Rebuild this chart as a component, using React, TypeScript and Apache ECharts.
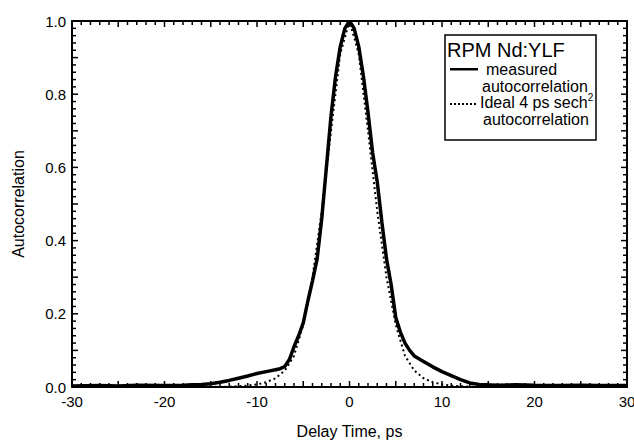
import React, { useEffect, useRef } from "react";
import * as echarts from "echarts";

const measuredT = [-30, -27, -25, -23, -20, -18, -17, -16, -15, -14, -13, -12, -11, -10, -9, -8, -7.5, -7, -6.5, -6, -5.5, -5, -4.5, -4, -3.5, -3, -2.5, -2, -1.5, -1, -0.5, 0, 0.5, 1, 1.5, 2, 2.5, 3, 3.5, 4, 4.5, 5, 5.5, 6, 6.5, 7, 8, 9, 10, 11, 12, 13, 14, 16, 18, 20, 23, 25, 27, 30];
const measuredV = [0.003, 0.004, 0.003, 0.005, 0.004, 0.005, 0.006, 0.007, 0.009, 0.013, 0.018, 0.024, 0.03, 0.037, 0.042, 0.047, 0.05, 0.056, 0.075, 0.11, 0.14, 0.175, 0.235, 0.29, 0.35, 0.46, 0.6, 0.74, 0.85, 0.93, 0.98, 1.0, 0.98, 0.93, 0.85, 0.75, 0.64, 0.56, 0.45, 0.35, 0.28, 0.19, 0.15, 0.12, 0.1, 0.085, 0.07, 0.055, 0.042, 0.031, 0.02, 0.011, 0.007, 0.005, 0.006, 0.005, 0.004, 0.005, 0.004, 0.004];

const idealT = [-20, -15, -14, -13, -12, -11, -10, -9, -8, -7, -6, -5, -4, -3, -2, -1, 0, 1, 2, 3, 4, 5, 6, 7, 8, 9, 10, 11, 12, 13, 14, 15, 20];
const idealV = [0, 0.0003, 0.0006, 0.001, 0.002, 0.004, 0.007, 0.013, 0.024, 0.045, 0.085, 0.17, 0.3, 0.48, 0.7, 0.91, 1.0, 0.91, 0.7, 0.48, 0.3, 0.17, 0.085, 0.045, 0.024, 0.013, 0.007, 0.004, 0.002, 0.001, 0.0006, 0.0003, 0];

const xTickLabels = ["-30", "-20", "-10", "0", "10", "20", "30"];
const yTickLabels = ["0.0", "0.2", "0.4", "0.6", "0.8", "1.0"];

const FONT = "'Liberation Sans', Arial, sans-serif";

// tick mark positions (every 1 ps on x, every 0.02 on y)
const xTickSteps: number[] = [];
for (let i = -30; i <= 30; i++) xTickSteps.push(i);
const yTickSteps: number[] = [];
for (let i = 0; i <= 50; i++) yTickSteps.push(i);

function axisLine() {
  return { show: true, onZero: false, lineStyle: { color: "#000", width: 2 } };
}

export default function App() {
  const ref = useRef<HTMLDivElement>(null);
  useEffect(() => {
    if (!ref.current) return;
    const chart = echarts.init(ref.current, null, { renderer: "svg" });
    const legendText = (x: number, y: number, text: string, extra: any = {}) => ({
      type: "text",
      x,
      y,
      style: { text, fontSize: 16, fontFamily: FONT, fill: "#000", verticalAlign: "middle", ...extra },
      z: 11,
    });
    const dots = [450, 454, 458, 462, 466, 470, 474].map((dx) => ({
      type: "rect",
      shape: { x: dx, y: 103, width: 2, height: 2 },
      style: { fill: "#000" },
      z: 11,
    }));
    const tickData: number[][] = [
      ...xTickSteps.map((t) => [t, 0, 0]),
      ...yTickSteps.map((k) => [-30, k / 50, 1]),
    ];
    const tickStyle = { stroke: "#000", lineWidth: 1.5 };
    chart.setOption({
      animation: false,
      backgroundColor: "#fff",
      grid: { left: 72, right: 7, top: 21, bottom: 54, outerBoundsMode: "none", containLabel: false },
      xAxis: [
        {
          type: "value",
          min: -30,
          max: 30,
          interval: 10,
          position: "bottom",
          axisLine: axisLine(),
          axisTick: { show: false },
          splitLine: { show: false },
          name: "Delay Time, ps",
          nameLocation: "middle",
          nameGap: 36,
          nameTextStyle: { color: "#000", fontSize: 16, fontFamily: FONT },
          axisLabel: {
            color: "#000",
            fontSize: 15,
            fontFamily: FONT,
            margin: 7,
            formatter: (v: number) => xTickLabels[Math.round((v + 30) / 10)] ?? String(v),
          },
        },
        {
          type: "value",
          min: -30,
          max: 30,
          interval: 10,
          position: "top",
          axisLine: axisLine(),
          axisTick: { show: false },
          splitLine: { show: false },
          axisLabel: { show: false },
        },
      ],
      yAxis: [
        {
          type: "value",
          min: 0,
          max: 1,
          interval: 0.2,
          position: "left",
          axisLine: axisLine(),
          axisTick: { show: false },
          splitLine: { show: false },
          name: "Autocorrelation",
          nameLocation: "middle",
          nameGap: 46,
          nameTextStyle: { color: "#000", fontSize: 16, fontFamily: FONT },
          axisLabel: {
            color: "#000",
            fontSize: 15,
            fontFamily: FONT,
            margin: 6,
            formatter: (v: number) => yTickLabels[Math.round(v * 5)] ?? String(v),
          },
        },
        {
          type: "value",
          min: 0,
          max: 1,
          interval: 0.2,
          position: "right",
          axisLine: axisLine(),
          axisTick: { show: false },
          splitLine: { show: false },
          axisLabel: { show: false },
        },
      ],
      series: [
        {
          type: "custom",
          name: "ticks",
          coordinateSystem: "cartesian2d",
          xAxisIndex: 0,
          yAxisIndex: 0,
          clip: false,
          silent: true,
          z: 1,
          data: tickData,
          renderItem: (_params: any, api: any) => {
            const kind = api.value(2);
            if (kind === 0) {
              const t = api.value(0);
              const len = Math.round(t) % 5 === 0 ? 6 : 4;
              const b = api.coord([t, 0]);
              const top = api.coord([t, 1]);
              return {
                type: "group",
                children: [
                  { type: "line", shape: { x1: b[0], y1: b[1], x2: b[0], y2: b[1] - len }, style: tickStyle },
                  { type: "line", shape: { x1: top[0], y1: top[1], x2: top[0], y2: top[1] + len }, style: tickStyle },
                ],
              };
            }
            const v = api.value(1);
            const len = Math.round(v * 50) % 5 === 0 ? 6 : 4;
            const l = api.coord([-30, v]);
            const r = api.coord([30, v]);
            return {
              type: "group",
              children: [
                { type: "line", shape: { x1: l[0], y1: l[1], x2: l[0] + len, y2: l[1] }, style: tickStyle },
                { type: "line", shape: { x1: r[0], y1: r[1], x2: r[0] - len, y2: r[1] }, style: tickStyle },
              ],
            };
          },
        },
        {
          type: "line",
          name: "ideal",
          data: idealT.map((t, i) => [t, idealV[i]]),
          showSymbol: false,
          lineStyle: { color: "#000", width: 2, type: [2, 3] },
          z: 2,
        },
        {
          type: "line",
          name: "measured",
          data: measuredT.map((t, i) => [t, measuredV[i]]),
          showSymbol: false,
          lineStyle: { color: "#000", width: 3.5 },
          z: 3,
        },
      ],
      graphic: [
        {
          type: "rect",
          shape: { x: 445, y: 35, width: 151, height: 105 },
          style: { fill: "#fff", stroke: "#000", lineWidth: 1.5 },
          z: 10,
        },
        legendText(447, 50, "RPM Nd:YLF", { fontSize: 20 }),
        {
          type: "rect",
          shape: { x: 450, y: 68, width: 28, height: 2.5 },
          style: { fill: "#000" },
          z: 11,
        },
        legendText(486, 69, "measured"),
        legendText(482, 86, "autocorrelation"),
        ...dots,
        legendText(480, 102, "Ideal 4 ps sech{s|2}", {
          rich: { s: { fontSize: 10, fontFamily: FONT, fill: "#000", padding: [0, 0, 10, 0] } },
        }),
        legendText(483, 119, "autocorrelation"),
      ],
    });
    return () => chart.dispose();
  }, []);
  return (
    <div
      ref={ref}
      style={{ position: "fixed", left: 0, top: 0, width: 634, height: 441, background: "#fff" }}
    />
  );
}
